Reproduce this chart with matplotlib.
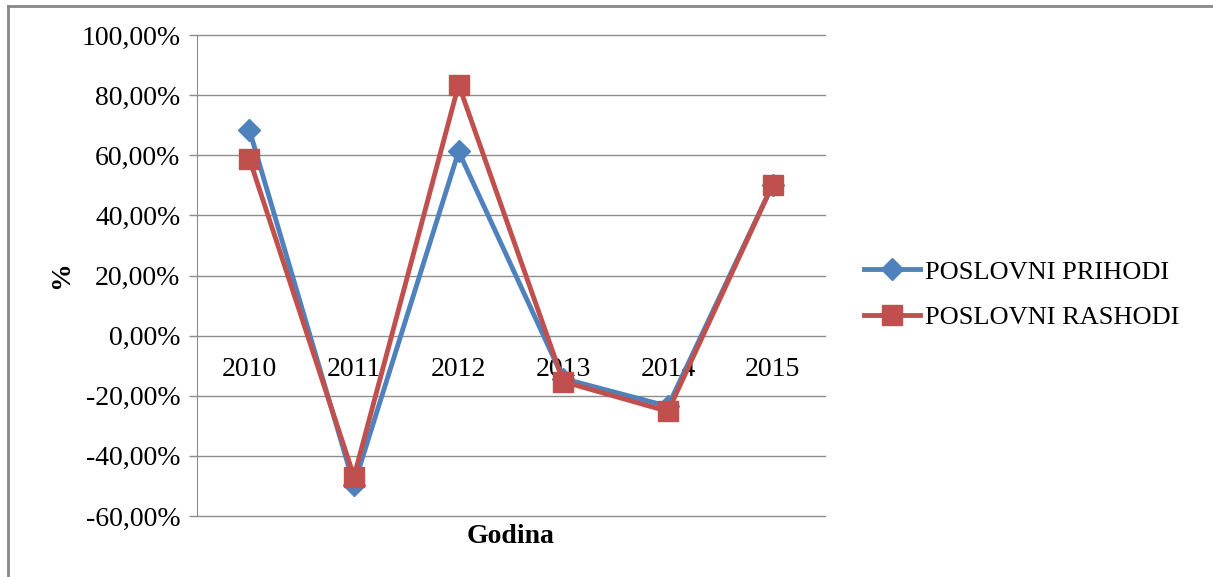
import matplotlib.pyplot as plt
from matplotlib.lines import Line2D
from matplotlib.ticker import FuncFormatter

plt.rcParams['font.family'] = 'Liberation Serif'

godine = ['2010', '2011', '2012', '2013', '2014', '2015']
prihodi = [68.5, -49.6, 61.3, -14.3, -23.5, 50.2]
rashodi = [58.9, -46.9, 83.5, -15.3, -25.2, 50.2]

blue = '#4F81BD'
red = '#C0504D'
grid_c = '#8C8C8C'

fig = plt.figure(figsize=(12.13, 5.77), dpi=100)
ax = fig.add_axes([0.1624, 0.1057, 0.5177, 0.8336])

x = list(range(len(godine)))
ax.plot(x, prihodi, color=blue, lw=3.5, marker='D', markersize=11,
        label='POSLOVNI PRIHODI', zorder=3)
ax.plot(x, rashodi, color=red, lw=3.5, marker='s', markersize=15,
        label='POSLOVNI RASHODI', zorder=4)

ax.set_xlim(-0.5, 5.5)
ax.set_ylim(-60, 100)
ax.set_yticks(range(-60, 101, 20))
ax.yaxis.set_major_formatter(FuncFormatter(lambda v, p: f'{v:.2f}%'.replace('.', ',')))
ax.tick_params(axis='y', labelsize=20, length=6, color=grid_c, width=1, pad=6)
for v in range(-60, 101, 20):
    ax.axhline(v, color=grid_c, lw=1, zorder=1, clip_on=False)

ax.set_xticks([])
for i, g in enumerate(godine):
    ax.text(i, -7.2, g, ha='center', va='top', fontsize=20, zorder=2)

for s in ['top', 'right', 'bottom']:
    ax.spines[s].set_visible(False)
ax.spines['left'].set_color(grid_c)

ax.set_ylabel('%', fontsize=20, fontweight='bold')
ax.yaxis.set_label_coords(-0.195, 0.5)
ax.set_xlabel('Godina', fontsize=20, fontweight='bold', labelpad=6)

ax.legend(loc='center left', bbox_to_anchor=(1.025, 0.46), frameon=False,
          fontsize=19, handlelength=2.1, handletextpad=0.2, labelspacing=0.85)

# okvir grafikona
fig.add_artist(Line2D([0.0066, 0.0066], [0, 0.9896], color='#888888', lw=2,
                      transform=fig.transFigure))
fig.add_artist(Line2D([0.0066, 1.0], [0.9896, 0.9896], color='#888888', lw=2,
                      transform=fig.transFigure))

fig.savefig('out.png', dpi=100)
